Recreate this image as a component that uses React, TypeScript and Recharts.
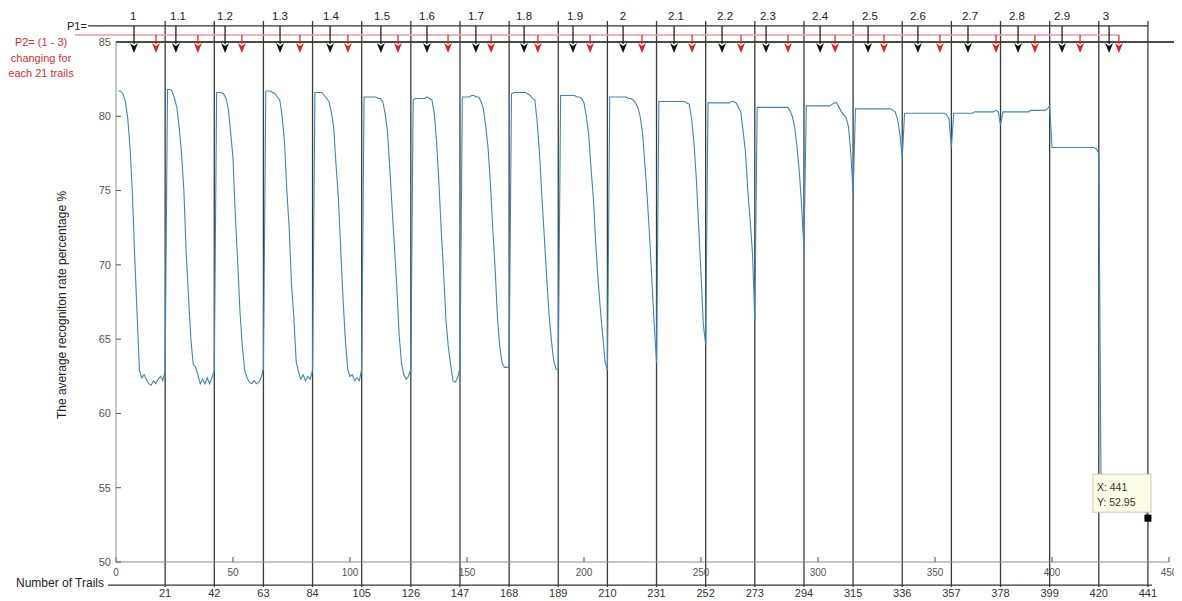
import React from 'react';
import { LineChart, Line, XAxis, YAxis, ReferenceLine, ReferenceDot } from 'recharts';

// ---------------- data: recognition rate per trail, 21 blocks of 21 trails ----------------
const seg01 = [81.7, 81.7, 81.5, 81.0, 79.9, 77.9, 74.8, 70.5, 66.8, 62.9, 62.4, 62.6, 62.3, 62.0, 61.9, 62.2, 62.0, 62.3, 62.5, 62.2, 62.9];
const seg02 = [81.8, 81.8, 81.7, 81.2, 80.6, 79.3, 77.5, 75.0, 70.8, 67.8, 65.0, 63.3, 63.1, 62.6, 62.0, 62.3, 62.0, 62.4, 62.0, 62.4, 62.9];
const seg03 = [81.6, 81.6, 81.6, 81.5, 81.2, 80.5, 78.9, 77.2, 73.3, 70.2, 66.8, 64.5, 62.9, 62.4, 62.1, 62.0, 62.2, 62.0, 62.1, 62.4, 63.0];
const seg04 = [81.7, 81.7, 81.7, 81.6, 81.5, 81.3, 81.1, 80.0, 78.3, 75.0, 72.5, 68.7, 66.5, 63.5, 62.8, 62.3, 62.6, 62.2, 62.5, 62.3, 62.9];
const seg05 = [81.6, 81.6, 81.6, 81.6, 81.4, 81.2, 81.0, 80.3, 79.3, 76.8, 74.6, 71.2, 67.8, 65.0, 63.0, 62.5, 62.6, 62.2, 62.4, 62.2, 63.0];
const seg06 = [81.3, 81.3, 81.3, 81.3, 81.3, 81.3, 81.2, 81.2, 81.0, 80.2, 79.0, 76.5, 73.8, 71.2, 68.5, 65.3, 63.4, 62.6, 62.3, 62.5, 63.0];
const seg07 = [81.1, 81.2, 81.2, 81.2, 81.2, 81.2, 81.3, 81.2, 81.1, 80.2, 78.3, 75.5, 72.3, 69.5, 66.3, 64.5, 63.3, 62.2, 62.1, 62.4, 63.1];
const seg08 = [81.3, 81.3, 81.3, 81.3, 81.4, 81.4, 81.3, 81.3, 81.0, 80.5, 79.3, 77.9, 75.5, 72.5, 69.8, 66.5, 64.5, 63.4, 63.1, 63.1, 63.1];
const seg09 = [81.5, 81.6, 81.6, 81.6, 81.6, 81.6, 81.6, 81.5, 81.4, 81.2, 81.1, 79.6, 77.5, 74.6, 72.0, 69.3, 66.8, 65.0, 63.6, 63.0, 62.9];
const seg10 = [81.4, 81.4, 81.4, 81.4, 81.4, 81.4, 81.4, 81.3, 81.3, 81.2, 80.9, 80.0, 78.8, 76.5, 74.5, 71.5, 69.0, 67.0, 65.2, 63.5, 62.9];
const seg11 = [81.3, 81.3, 81.3, 81.3, 81.3, 81.3, 81.3, 81.3, 81.2, 81.2, 81.1, 80.9, 80.6, 80.0, 78.9, 76.8, 74.6, 72.0, 69.0, 66.0, 63.4];
const seg12 = [81.0, 81.0, 81.0, 81.0, 81.0, 81.0, 81.0, 81.0, 81.0, 81.0, 81.0, 81.0, 80.9, 80.8, 79.8, 78.2, 75.8, 72.6, 69.4, 66.0, 64.6];
const seg13 = [80.9, 80.9, 80.9, 80.9, 80.9, 80.9, 80.9, 80.9, 80.9, 80.9, 81.0, 81.0, 80.9, 80.6, 80.3, 79.0, 77.6, 75.0, 73.0, 70.8, 66.3];
const seg14 = [80.6, 80.6, 80.6, 80.6, 80.6, 80.6, 80.6, 80.6, 80.6, 80.6, 80.6, 80.6, 80.6, 80.6, 80.4, 80.0, 79.3, 78.0, 76.3, 74.0, 71.0];
const seg15 = [80.7, 80.7, 80.7, 80.7, 80.7, 80.7, 80.7, 80.7, 80.7, 80.7, 80.7, 80.8, 80.9, 80.9, 80.6, 80.3, 80.1, 79.9, 79.3, 77.6, 74.8];
const seg16 = [80.5, 80.5, 80.5, 80.5, 80.5, 80.5, 80.5, 80.5, 80.5, 80.5, 80.5, 80.5, 80.5, 80.5, 80.5, 80.5, 80.4, 80.3, 79.8, 78.8, 77.2];
const seg17 = [80.2, 80.2, 80.2, 80.2, 80.2, 80.2, 80.2, 80.2, 80.2, 80.2, 80.2, 80.2, 80.2, 80.2, 80.2, 80.2, 80.2, 80.2, 80.1, 79.8, 77.9];
const seg18 = [80.2, 80.2, 80.2, 80.2, 80.2, 80.2, 80.2, 80.2, 80.2, 80.3, 80.3, 80.3, 80.3, 80.3, 80.3, 80.3, 80.3, 80.3, 80.4, 80.3, 79.4];
const seg19 = [80.3, 80.3, 80.3, 80.3, 80.3, 80.3, 80.3, 80.3, 80.3, 80.3, 80.3, 80.3, 80.4, 80.4, 80.4, 80.4, 80.4, 80.4, 80.4, 80.5, 80.7];
const seg20 = [77.9, 77.9, 77.9, 77.9, 77.9, 77.9, 77.9, 77.9, 77.9, 77.9, 77.9, 77.9, 77.9, 77.9, 77.9, 77.9, 77.9, 77.9, 77.9, 77.8, 77.5];
const seg21 = [54.2, 54.1, 54.0, 54.0, 53.9, 53.9, 53.8, 53.8, 53.8, 53.7, 53.7, 53.7, 53.7, 53.6, 53.6, 53.6, 53.6, 53.6, 53.5, 53.5, 52.95];

const segments = [seg01, seg02, seg03, seg04, seg05, seg06, seg07, seg08, seg09, seg10, seg11, seg12, seg13, seg14, seg15, seg16, seg17, seg18, seg19, seg20, seg21];

// ---------------- axes / annotations ----------------
const xTicks = [0, 50, 100, 150, 200, 250, 300, 350, 400, 450];
const yTicks = [50, 55, 60, 65, 70, 75, 80, 85];
const trailBoundaries = [21, 42, 63, 84, 105, 126, 147, 168, 189, 210, 231, 252, 273, 294, 315, 336, 357, 378, 399, 420, 441];
const p1Labels = ['1', '1.1', '1.2', '1.3', '1.4', '1.5', '1.6', '1.7', '1.8', '1.9', '2', '2.1', '2.2', '2.3', '2.4', '2.5', '2.6', '2.7', '2.8', '2.9', '3'];
const p1LabelX = [7.3, 26.5, 46.6, 70.1, 91.9, 113.7, 132.9, 153.8, 174.4, 196.2, 216.7, 239.3, 260.3, 278.6, 300.9, 322.2, 342.7, 365.0, 385.0, 404.3, 423.1];
const blackArrowX = [7.7, 25.6, 46.6, 70.1, 91.5, 113.2, 132.9, 153.8, 174.4, 195.3, 216.7, 238.5, 259.0, 277.8, 300.9, 321.4, 342.7, 364.1, 385.5, 404.3, 424.4];
const redArrowX = [17.1, 35.0, 53.8, 78.6, 99.1, 120.5, 141.9, 160.3, 180.3, 202.6, 224.8, 246.2, 267.1, 287.2, 307.3, 328.2, 352.1, 376.1, 392.7, 412.0, 428.6];
const p2Text = ['P2= (1 - 3)', 'changing for', 'each 21 trails'];
const yAxisTitle = 'The average recogniton rate percentage %';
const xAxisTitle = 'Number of Trails';

const data = segments.flat().map((y, i) => ({ x: i + 1, y }));
const tip = data[data.length - 1];

// annotation levels expressed in axis units (outside the plotting box)
const Y_LABEL = 86.72;
const Y_DIV_TOP = 86.41;
const Y_P1 = 86.08;
const Y_P2 = 85.47;
const Y_TIP = 84.26;
const Y_DIV_BOTTOM = 48.32;
const Y_AXIS2 = 48.45;
const X_P1_START = -12;
const X_P2_START = -17.5;
const X_TOPLINE_END = 452.6;
const X_AXIS2_START = -3.4;
const X_AXIS2_END = 442.7;

const FONT = '"Liberation Sans", Arial, Helvetica, sans-serif';

const arrowShape = (color: string, width: number) => (p: any) => {
  const { x1, y1, x2, y2 } = p;
  const head = 10;
  const half = 4;
  return (
    <g>
      <line x1={x1} y1={y1} x2={x2} y2={y2 - head + 1} stroke={color} strokeWidth={width} />
      <polygon points={`${x2 - half},${y2 - head} ${x2},${y2 - head + 3} ${x2 + half},${y2 - head} ${x2},${y2}`} fill={color} />
    </g>
  );
};

const p1Shape = (p: any) => (
  <g>
    <line x1={p.x1} y1={p.y1} x2={p.x2} y2={p.y2} stroke="#333" strokeWidth={1.2} />
    <text x={p.x1 - 1} y={p.y1} textAnchor="end" dominantBaseline="central" fontSize={11} fill="#222" fontFamily={FONT}>P1=</text>
  </g>
);

const p2Shape = (p: any) => (
  <g>
    <line x1={p.x1} y1={p.y1} x2={p.x2} y2={p.y2} stroke="#ec9a9a" strokeWidth={1.4} />
    {p2Text.map((t, i) => (
      <text key={t} x={p.x1 - 34} y={p.y1 + 7 + i * 15.5} textAnchor="middle" dominantBaseline="central" fontSize={11} fill="#d32f2f" fontFamily={FONT}>{t}</text>
    ))}
  </g>
);

const plainLine = (color: string, width: number) => (p: any) => (
  <line x1={p.x1} y1={p.y1} x2={p.x2} y2={p.y2} stroke={color} strokeWidth={width} />
);

const tipShape = (p: any) => {
  const { cx, cy } = p;
  return (
    <g>
      <rect x={cx - 55} y={cy - 44} width={58} height={38} fill="#fbfbe6" stroke="#c8c8b4" strokeWidth={1} />
      <text x={cx - 51} y={cy - 31} dominantBaseline="central" fontSize={10.5} fill="#333" fontFamily={FONT}>{`X: ${tip.x}`}</text>
      <text x={cx - 51} y={cy - 16} dominantBaseline="central" fontSize={10.5} fill="#333" fontFamily={FONT}>{`Y: ${tip.y}`}</text>
      <rect x={cx - 3.5} y={cy - 3.5} width={7} height={7} fill="#000" />
    </g>
  );
};

export default function App() {
  return (
    <div style={{ width: 1174, height: 593, fontFamily: FONT, background: '#fff' }}>
      <LineChart width={1174} height={593} data={data} margin={{ top: 34, right: 13, bottom: 0, left: 68 }}>
        <XAxis
          dataKey="x"
          type="number"
          domain={[0, 450]}
          ticks={xTicks}
          interval={0}
          height={23}
          tickSize={-5}
          tickMargin={12}
          allowDataOverflow
          axisLine={{ stroke: '#8c8c8c' }}
          tickLine={{ stroke: '#555' }}
          tick={{ fontSize: 10, fill: '#555' }}
        />
        <XAxis
          xAxisId="trails"
          dataKey="x"
          type="number"
          domain={[0, 450]}
          ticks={trailBoundaries}
          interval={0}
          height={16}
          tickSize={0}
          tickMargin={4}
          allowDataOverflow
          axisLine={false}
          tickLine={false}
          tick={{ fontSize: 11, fill: '#333' }}
          label={{
            content: (props: any) => {
              const vb = props.viewBox;
              return (
                <text x={vb.x - 12} y={vb.y - 2} textAnchor="end" dominantBaseline="central" fontSize={12} fill="#222" fontFamily={FONT}>
                  {xAxisTitle}
                </text>
              );
            },
          }}
        />
        <XAxis
          xAxisId="top"
          orientation="top"
          type="number"
          domain={[0, 450]}
          ticks={xTicks}
          interval={0}
          height={0}
          tickSize={-5}
          allowDataOverflow
          axisLine={false}
          tickLine={{ stroke: '#555' }}
          tickFormatter={() => ''}
        />
        <YAxis
          type="number"
          domain={[50, 85]}
          ticks={yTicks}
          interval={0}
          width={40}
          tickSize={-5}
          tickMargin={10}
          allowDataOverflow
          axisLine={{ stroke: '#8c8c8c' }}
          tickLine={{ stroke: '#555' }}
          tick={{ fontSize: 11, fill: '#555' }}
          label={{
            content: (props: any) => {
              const vb = props.viewBox;
              const x = vb.x - 14;
              const y = vb.y + vb.height / 2 + 3;
              return (
                <text x={x} y={y} transform={`rotate(-90, ${x}, ${y})`} textAnchor="middle" dominantBaseline="central" fontSize={12} fill="#222" fontFamily={FONT}>
                  {yAxisTitle}
                </text>
              );
            },
          }}
        />
        <YAxis
          yAxisId="right"
          orientation="right"
          type="number"
          domain={[50, 85]}
          ticks={yTicks}
          interval={0}
          width={0}
          tickSize={-5}
          allowDataOverflow
          axisLine={{ stroke: '#8c8c8c' }}
          tickLine={{ stroke: '#555' }}
          tickFormatter={() => ''}
        />

        {/* secondary "Number of Trails" axis line */}
        <ReferenceLine
          ifOverflow="visible"
          segment={[{ x: X_AXIS2_START, y: Y_AXIS2 }, { x: X_AXIS2_END, y: Y_AXIS2 }]}
          shape={plainLine('#333', 1.2)}
        />

        {/* heavy top line */}
        <ReferenceLine
          ifOverflow="visible"
          segment={[{ x: 0, y: 85 }, { x: X_TOPLINE_END, y: 85 }]}
          shape={plainLine('#111', 1.6)}
        />

        {/* block dividers every 21 trails */}
        {trailBoundaries.map((b) => (
          <ReferenceLine
            key={`div-${b}`}
            ifOverflow="visible"
            segment={[{ x: b, y: Y_DIV_TOP }, { x: b, y: Y_DIV_BOTTOM }]}
            shape={plainLine('#3a3a3a', 1.3)}
          />
        ))}

        {/* P1 and P2 guide lines */}
        <ReferenceLine
          ifOverflow="visible"
          segment={[{ x: X_P1_START, y: Y_P1 }, { x: trailBoundaries[trailBoundaries.length - 1], y: Y_P1 }]}
          shape={p1Shape}
        />
        <ReferenceLine
          ifOverflow="visible"
          segment={[{ x: X_P2_START, y: Y_P2 }, { x: redArrowX[redArrowX.length - 1], y: Y_P2 }]}
          shape={p2Shape}
        />

        {/* arrows */}
        {blackArrowX.map((bx, i) => (
          <ReferenceLine
            key={`ba-${i}`}
            ifOverflow="visible"
            segment={[{ x: bx, y: Y_P1 }, { x: bx, y: Y_TIP }]}
            shape={arrowShape('#111', 1.2)}
          />
        ))}
        {redArrowX.map((rx, i) => (
          <ReferenceLine
            key={`ra-${i}`}
            ifOverflow="visible"
            segment={[{ x: rx, y: Y_P2 }, { x: rx, y: Y_TIP }]}
            shape={arrowShape('#e31e1e', 1.2)}
          />
        ))}

        {/* P1 value labels */}
        {p1Labels.map((lbl, i) => (
          <ReferenceDot
            key={`lbl-${lbl}`}
            x={p1LabelX[i]}
            y={Y_LABEL}
            ifOverflow="visible"
            shape={(p: any) => (
              <text x={p.cx} y={p.cy} textAnchor="middle" dominantBaseline="central" fontSize={11.5} fill="#222" fontFamily={FONT}>
                {lbl}
              </text>
            )}
          />
        ))}

        <Line
          type="linear"
          dataKey="y"
          stroke="#3f86b8"
          strokeWidth={1.1}
          dot={false}
          activeDot={false}
          isAnimationActive={false}
        />

        {/* data tip */}
        <ReferenceDot x={tip.x} y={tip.y} ifOverflow="visible" shape={tipShape} />
      </LineChart>
    </div>
  );
}
